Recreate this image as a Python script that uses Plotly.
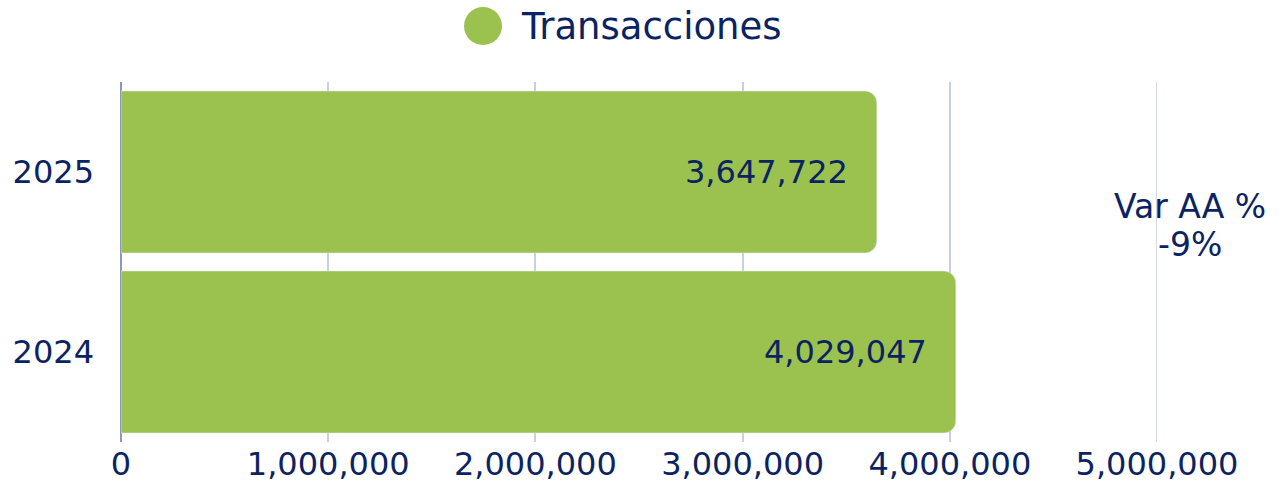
import plotly.graph_objects as go

categories = ["2024", "2025"]
transacciones = [4029047, 3647722]
tick_values = [0, 1000000, 2000000, 3000000, 4000000, 5000000]
tick_labels = ["0", "1,000,000", "2,000,000", "3,000,000", "4,000,000", "5,000,000"]
series_name = "Transacciones"
var_label = "Var AA %"

GREEN = "#9BC14F"
NAVY = "#0B2362"
GRID = "#C9CEE0"
FONT = "'DejaVu Sans', sans-serif"

W, H = 1286, 486
L, R, T, B = 121, 129, 82, 44
PW, PH = W - L - R, H - T - B

def px(xp):
    return (xp - L) / PW

def py(yp):
    return 1 - (yp - T) / PH

var_pct = (transacciones[1] / transacciones[0] - 1) * 100

fig = go.Figure()
fig.add_trace(go.Bar(
    y=categories, x=transacciones, orientation="h",
    marker=dict(color=GREEN, cornerradius=12),
    name=series_name, showlegend=False,
))

for i, v in enumerate(transacciones):
    fig.add_annotation(x=v, y=i, xref="x", yref="y", text=f"{v:,}",
                       showarrow=False, xanchor="right", yanchor="middle", xshift=-27,
                       font=dict(size=32, color=NAVY, family=FONT))

# gridline at the last tick (plotly omits the grid line on the plot edge)
fig.add_shape(type="line", xref="x", yref="paper", x0=tick_values[-1], x1=tick_values[-1],
              y0=0, y1=1, line=dict(color=GRID, width=1.5), layer="below")

fig.add_annotation(x=px(1190), y=py(206), xref="paper", yref="paper",
                   text=var_label, showarrow=False,
                   xanchor="center", yanchor="middle",
                   font=dict(size=33, color=NAVY, family=FONT))
fig.add_annotation(x=px(1190), y=py(245), xref="paper", yref="paper",
                   text=f"{var_pct:.0f}%", showarrow=False,
                   xanchor="center", yanchor="middle",
                   font=dict(size=33, color=NAVY, family=FONT))

fig.add_shape(type="circle", xref="paper", yref="paper", xsizemode="pixel", ysizemode="pixel",
              xanchor=px(483), yanchor=py(26),
              x0=-19, x1=19, y0=-19, y1=19, fillcolor=GREEN, line=dict(width=0))
fig.add_annotation(x=px(519), y=py(26), xref="paper", yref="paper",
                   text=series_name, showarrow=False, xanchor="left", yanchor="middle",
                   font=dict(size=37, color=NAVY, family=FONT))

fig.update_layout(
    width=W, height=H,
    margin=dict(l=L, r=R, t=T, b=B, autoexpand=False),
    paper_bgcolor="white", plot_bgcolor="white",
    bargap=0.1,
    showlegend=False,
    font=dict(family=FONT, color=NAVY, size=32),
    xaxis=dict(range=[0, 5000000], autorange=False, tickvals=tick_values, ticktext=tick_labels,
               showgrid=True, gridcolor=GRID, gridwidth=1.5,
               zeroline=True, zerolinecolor="#8C97BC", zerolinewidth=2,
               showline=False, tickfont=dict(size=32, color=NAVY, family=FONT),
               automargin=False),
    yaxis=dict(type="category", categoryorder="array", categoryarray=categories,
               range=[-0.5, 1.5], autorange=False,
               showgrid=False, zeroline=False, showline=False,
               ticklabelstandoff=26, automargin=False,
               tickfont=dict(size=32, color=NAVY, family=FONT)),
)

fig.write_html("out.html", config={"displayModeBar": False},
               post_script="document.body.style.margin='0';document.body.style.overflow='hidden';")
